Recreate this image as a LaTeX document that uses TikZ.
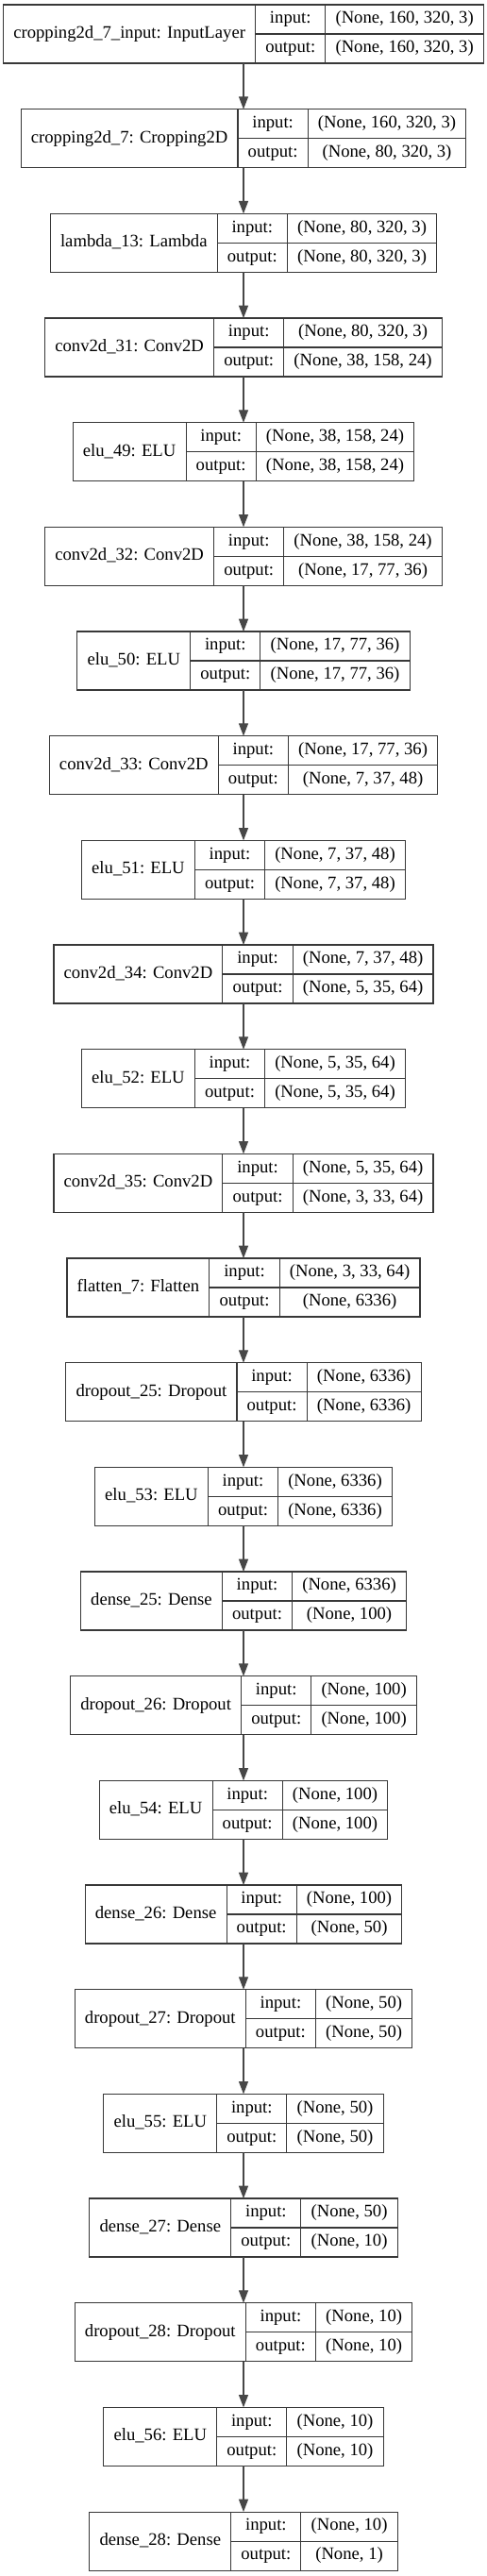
\documentclass[tikz,border=0pt]{standalone}
\usepackage{fontspec}
\setmainfont{Liberation Serif}
\usetikzlibrary{positioning,arrows.meta}

\newcommand{\kerasfont}{\fontsize{14pt}{16pt}\selectfont}
\newlength{\tmpwa}\newlength{\tmpwb}
\newlength{\namewd}\newlength{\tagwd}\newlength{\shapewd}\newlength{\totalwd}

% one record: #1 node name, #2 placement, #3 layer, #4 input shape, #5 output shape
\newcommand{\kerasrow}[5]{%
  \begin{pgfinterruptpicture}%
    \settowidth{\tmpwa}{\normalfont\kerasfont #3}\global\namewd=\tmpwa
    \global\advance\namewd by 16pt
    \settowidth{\tmpwa}{\normalfont\kerasfont #4}\settowidth{\tmpwb}{\normalfont\kerasfont #5}%
    \ifdim\tmpwb>\tmpwa \tmpwa=\tmpwb\fi
    \global\shapewd=\tmpwa \global\advance\shapewd by 16pt
    \settowidth{\tmpwa}{\normalfont\kerasfont output:}\global\tagwd=\tmpwa
    \global\advance\tagwd by 16pt
  \end{pgfinterruptpicture}%
  \setlength{\totalwd}{\namewd}\addtolength{\totalwd}{\tagwd}\addtolength{\totalwd}{\shapewd}%
  \node[layer, minimum width=\totalwd, #2] (#1) {};
  \node[field, anchor=west, minimum width=\namewd, minimum height=46.5pt] (#1-name) at (#1.west) {#3};
  \node[field, anchor=north west, minimum width=\tagwd] (#1-in) at (#1-name.north east) {input:};
  \node[field, anchor=north west, minimum width=\tagwd] (#1-out) at (#1-in.south west) {output:};
  \node[field, anchor=north west, minimum width=\shapewd] (#1-inshape) at (#1-in.north east) {#4};
  \node[field, anchor=north west, minimum width=\shapewd] (#1-outshape) at (#1-out.north east) {#5};
}

\begin{document}
\begin{tikzpicture}[
    layer/.style={rectangle, minimum height=46.5pt, inner sep=0pt, outer sep=0pt},
    field/.style={rectangle, draw=black!78, line width=0.8pt, minimum height=23.25pt, inner sep=0pt, outer sep=0pt,
                  font=\kerasfont, text height=9.6pt, text depth=3pt},
    next/.style={below=36.5pt of #1},
    edge/.style={draw=black!72, line width=0.8pt, -{Triangle[length=10pt,width=7.5pt]}}]
  \useasboundingbox[fill=white] (0,0) rectangle (387pt,-2046.75pt);

  \kerasrow{inputlayer}{at={(193.5pt,-27pt)}}{cropping2d\_7\_input: InputLayer}{(None, 160, 320, 3)}{(None, 160, 320, 3)}
  \kerasrow{crop7}{next=inputlayer}{cropping2d\_7: Cropping2D}{(None, 160, 320, 3)}{(None, 80, 320, 3)}
  \kerasrow{lambda13}{next=crop7}{lambda\_13: Lambda}{(None, 80, 320, 3)}{(None, 80, 320, 3)}
  \kerasrow{conv31}{next=lambda13}{conv2d\_31: Conv2D}{(None, 80, 320, 3)}{(None, 38, 158, 24)}
  \kerasrow{elu49}{next=conv31}{elu\_49: ELU}{(None, 38, 158, 24)}{(None, 38, 158, 24)}
  \kerasrow{conv32}{next=elu49}{conv2d\_32: Conv2D}{(None, 38, 158, 24)}{(None, 17, 77, 36)}
  \kerasrow{elu50}{next=conv32}{elu\_50: ELU}{(None, 17, 77, 36)}{(None, 17, 77, 36)}
  \kerasrow{conv33}{next=elu50}{conv2d\_33: Conv2D}{(None, 17, 77, 36)}{(None, 7, 37, 48)}
  \kerasrow{elu51}{next=conv33}{elu\_51: ELU}{(None, 7, 37, 48)}{(None, 7, 37, 48)}
  \kerasrow{conv34}{next=elu51}{conv2d\_34: Conv2D}{(None, 7, 37, 48)}{(None, 5, 35, 64)}
  \kerasrow{elu52}{next=conv34}{elu\_52: ELU}{(None, 5, 35, 64)}{(None, 5, 35, 64)}
  \kerasrow{conv35}{next=elu52}{conv2d\_35: Conv2D}{(None, 5, 35, 64)}{(None, 3, 33, 64)}
  \kerasrow{flatten7}{next=conv35}{flatten\_7: Flatten}{(None, 3, 33, 64)}{(None, 6336)}
  \kerasrow{drop25}{next=flatten7}{dropout\_25: Dropout}{(None, 6336)}{(None, 6336)}
  \kerasrow{elu53}{next=drop25}{elu\_53: ELU}{(None, 6336)}{(None, 6336)}
  \kerasrow{dense25}{next=elu53}{dense\_25: Dense}{(None, 6336)}{(None, 100)}
  \kerasrow{drop26}{next=dense25}{dropout\_26: Dropout}{(None, 100)}{(None, 100)}
  \kerasrow{elu54}{next=drop26}{elu\_54: ELU}{(None, 100)}{(None, 100)}
  \kerasrow{dense26}{next=elu54}{dense\_26: Dense}{(None, 100)}{(None, 50)}
  \kerasrow{drop27}{next=dense26}{dropout\_27: Dropout}{(None, 50)}{(None, 50)}
  \kerasrow{elu55}{next=drop27}{elu\_55: ELU}{(None, 50)}{(None, 50)}
  \kerasrow{dense27}{next=elu55}{dense\_27: Dense}{(None, 50)}{(None, 10)}
  \kerasrow{drop28}{next=dense27}{dropout\_28: Dropout}{(None, 10)}{(None, 10)}
  \kerasrow{elu56}{next=drop28}{elu\_56: ELU}{(None, 10)}{(None, 10)}
  \kerasrow{dense28}{next=elu56}{dense\_28: Dense}{(None, 10)}{(None, 1)}

  % connections
  \foreach \a/\b in {inputlayer/crop7, crop7/lambda13, lambda13/conv31, conv31/elu49, elu49/conv32,
                     conv32/elu50, elu50/conv33, conv33/elu51, elu51/conv34, conv34/elu52, elu52/conv35,
                     conv35/flatten7, flatten7/drop25, drop25/elu53, elu53/dense25, dense25/drop26,
                     drop26/elu54, elu54/dense26, dense26/drop27, drop27/elu55, elu55/dense27,
                     dense27/drop28, drop28/elu56, elu56/dense28}
    \draw[edge] (\a) -- (\b);
\end{tikzpicture}
\end{document}
